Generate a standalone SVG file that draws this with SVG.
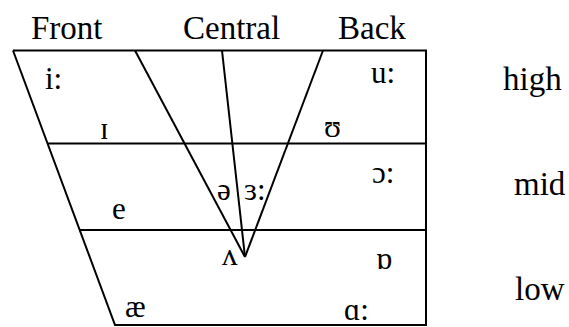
<svg xmlns="http://www.w3.org/2000/svg" width="569" height="327" viewBox="0 0 569 327">
<style>
  .ln { stroke: #000; stroke-width: 2; fill: none; stroke-linecap: butt; }
  .hd { font-family: "Liberation Serif", "DejaVu Serif", serif; font-size: 33px; fill: #000; }
  .sy { font-family: "Liberation Serif", "DejaVu Serif", serif; font-size: 31px; fill: #000; }
</style>
<rect width="569" height="327" fill="#fff"/>
<g id="headers">
  <text class="hd" x="31" y="39">Front</text>
  <text class="hd" x="183" y="39">Central</text>
  <text class="hd" x="338" y="39">Back</text>
</g>
<g id="chart">
  <polyline class="ln" points="13,50.5 426,50.5 426,325 115,325 13,50.5"/>
  <line class="ln" x1="47.5" y1="143.5" x2="426" y2="143.5"/>
  <line class="ln" x1="79.6" y1="230" x2="426" y2="230"/>
  <line class="ln" x1="135" y1="50.5" x2="245" y2="257"/>
  <line class="ln" x1="222" y1="50.5" x2="245" y2="257"/>
  <line class="ln" x1="323" y1="50.5" x2="245" y2="257"/>
</g>
<g id="vowels">
  <text class="sy" x="45" y="89">i:</text>
  <text class="sy" x="371" y="83">u:</text>
  <text class="sy" x="100" y="139">ɪ</text>
  <text class="sy" x="324" y="137">ʊ</text>
  <text class="sy" x="372" y="183">ɔ:</text>
  <text class="sy" x="217" y="200">ə</text>
  <text class="sy" x="244" y="200">ɜ:</text>
  <text class="sy" x="112" y="219">e</text>
  <text class="sy" x="222" y="265">ʌ</text>
  <text class="sy" x="376" y="269">ɒ</text>
  <text class="sy" x="125" y="317">æ</text>
  <text class="sy" x="344" y="320">ɑ:</text>
</g>
<g id="heights">
  <text class="hd" x="503" y="90">high</text>
  <text class="hd" x="514" y="195">mid</text>
  <text class="hd" x="515" y="300">low</text>
</g>
</svg>
